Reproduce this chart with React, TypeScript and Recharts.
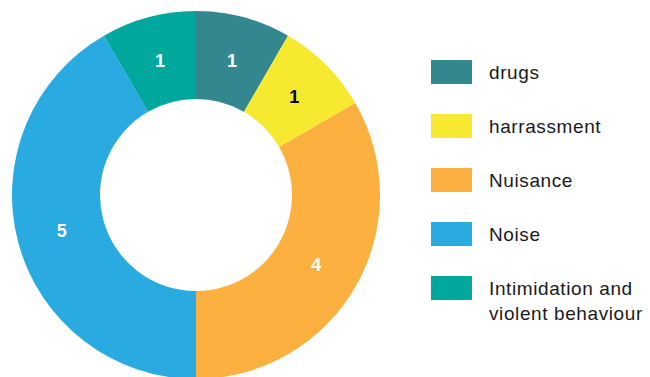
import { PieChart, Pie, Cell, Legend } from "recharts";

const categories = ["drugs", "harrassment", "Nuisance", "Noise", "Intimidation and violent behaviour"];
const counts = [1, 1, 4, 5, 1];
const colors = ["#33878f", "#f7e92f", "#fcb040", "#29aae1", "#00a79d"];
const labelColors = ["#ffffff", "#000000", "#ffffff", "#ffffff", "#ffffff"];

const data = categories.map((name, i) => ({ name, value: counts[i] }));

const RADIAN = Math.PI / 180;

interface LabelProps {
  cx: number;
  cy: number;
  midAngle: number;
  innerRadius: number;
  outerRadius: number;
  value: number;
  index: number;
}

const renderLabel = ({ cx, cy, midAngle, innerRadius, outerRadius, value, index }: LabelProps) => {
  const r = (innerRadius + outerRadius) / 2 - 1;
  const x = cx + r * Math.cos(-midAngle * RADIAN);
  const y = cy + r * Math.sin(-midAngle * RADIAN);
  return (
    <text
      x={x}
      y={y}
      fill={labelColors[index]}
      textAnchor="middle"
      dominantBaseline="central"
      fontSize={18}
      fontWeight="bold"
      fontFamily="'Liberation Sans', Arial, sans-serif"
    >
      {value}
    </text>
  );
};

const CustomLegend = () => (
  <div
    style={{
      fontFamily: "'Liberation Sans', Arial, sans-serif",
      fontSize: 19,
      letterSpacing: 0.6,
      color: "#1a1a1a",
    }}
  >
    {categories.map((name, i) => (
      <div key={name} style={{ display: "flex", alignItems: "flex-start", height: 54 }}>
        <div style={{ width: 41, height: 24, background: colors[i], flexShrink: 0 }} />
        <div style={{ marginLeft: 17, width: 170, lineHeight: "25px" }}>{name}</div>
      </div>
    ))}
  </div>
);

const App = () => {
  return (
    <div>
      <style>{"body { margin: 0; }"}</style>
      <PieChart width={650} height={377} margin={{ top: 0, right: 0, bottom: 0, left: 0 }}>
        <Pie
          data={data}
          dataKey="value"
          nameKey="name"
          cx={196}
          cy={195}
          innerRadius={96}
          outerRadius={184}
          startAngle={90}
          endAngle={-270}
          stroke="none"
          label={renderLabel}
          labelLine={false}
          isAnimationActive={false}
        >
          {data.map((entry, index) => (
            <Cell key={`cell-${index}`} fill={colors[index]} />
          ))}
        </Pie>
        <Legend
          layout="vertical"
          align="right"
          verticalAlign="top"
          content={<CustomLegend />}
          wrapperStyle={{ top: 60, left: 431, width: 219 }}
        />
      </PieChart>
    </div>
  );
};

export default App;
